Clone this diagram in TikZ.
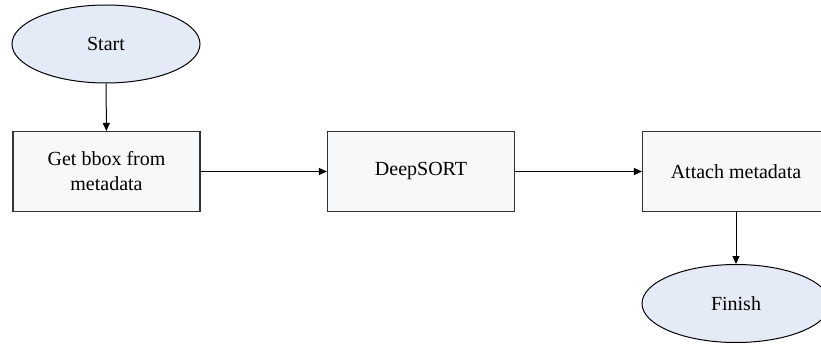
\documentclass[tikz,border=0pt]{standalone}
\usepackage{fontspec}
\setmainfont{Liberation Serif}
\usetikzlibrary{shapes.geometric,arrows.meta}
\definecolor{ellfill}{HTML}{E4EAF6}
\definecolor{boxfill}{HTML}{F7F8FA}
\definecolor{linec}{HTML}{333333}
\begin{document}
\begin{tikzpicture}[x=1pt,y=-1pt,
  term/.style={ellipse,draw=black,line width=1pt,fill=ellfill,minimum width=188pt,minimum height=78pt,inner sep=0pt,font=\fontsize{20}{24}\selectfont},
  procbox/.style={rectangle,draw=linec,line width=1.1pt,fill=boxfill,minimum width=187pt,minimum height=80pt,inner sep=0pt,align=center,font=\fontsize{20}{25}\selectfont},
  conn/.style={draw=black,line width=1pt,-{Triangle[length=8pt,width=7pt]}}]
\useasboundingbox[clip] (0,0) rectangle (821,345);
\node[term] (start) at (106,44) {Start};
\node[procbox] (get) at (106.5,171.5) {Get bbox from\\metadata};
\node[procbox] (deep) at (421,171.5) {DeepSORT};
\node[procbox] (att) at (736,171.5) {Attach metadata};
\node[term] (fin) at (736,303.5) {Finish};
\draw[conn] (start) -- (get);
\draw[conn] (get) -- (deep);
\draw[conn] (deep) -- (att);
\draw[conn] (att) -- (fin);
\end{tikzpicture}
\end{document}
